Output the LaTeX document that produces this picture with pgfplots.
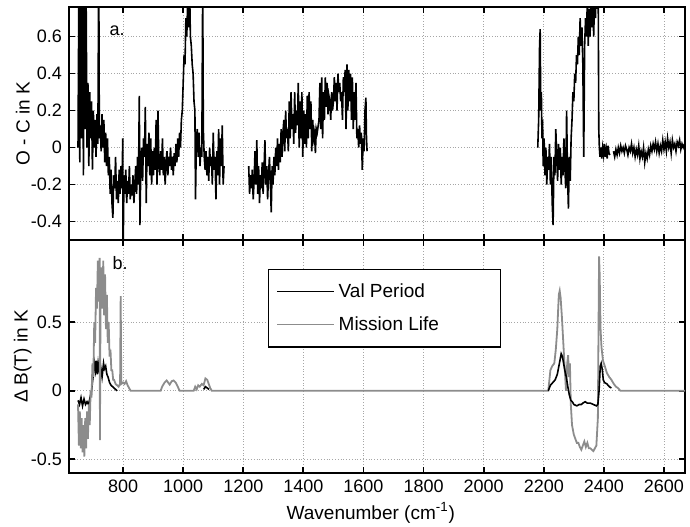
\documentclass[border=0pt]{standalone}
\usepackage{pgfplots}
\pgfplotsset{compat=1.18}
\usepackage{fontspec}
\setmainfont{Liberation Sans}
\definecolor{mlgray}{RGB}{140,140,140}
\begin{document}
\begin{tikzpicture}
\pgfplotsset{
  every axis/.append style={
    scale only axis, width=308pt, height=116.5pt,
    xmin=620, xmax=2670,
    xtick={800,1000,...,2600},
    grid=major, grid style={densely dotted, gray!70, line width=0.4pt},
    tick align=inside, major tick length=3pt,
    tick style={black, line width=0.9pt},
    axis line style={line width=0.9pt},
    /pgf/number format/assume math mode=true,
    /pgf/number format/1000 sep={},
    ticklabel style={font=\fontsize{9}{10}\selectfont},
    label style={font=\fontsize{9.5}{11}\selectfont},
    clip=true,
  }
}
\begin{axis}[name=top,
  ymin=-0.5, ymax=0.76,
  ytick={-0.4,-0.2,0,0.2,0.4,0.6},
  yticklabels={-0.4,-0.2,0,0.2,0.4,0.6},
  xticklabels={},
  ylabel={O - C in K},
  ylabel style={at={(axis description cs:-0.075,0.5)}, anchor=center},
]
\addplot[black, line width=0.8pt] coordinates {
(650,0.0)(653,0.9)(656,-0.08)(659,1.0)(662,0.05)(665,0.9)(668,-0.15)(671,1.0)(674,0.1)(677,0.8)
(680,0.0)(683,0.35)(686,-0.1)(689,0.3)(692,0.05)(695,0.25)(698,-0.12)(701,0.2)(704,0.0)(707,0.15)
(710,-0.05)(713,0.18)(716,0.02)(719,1.0)(721,0.05)(724,0.12)(727,-0.02)(730,0.18)(733,0.0)(736,0.15)
(739,-0.08)(742,0.08)(745,-0.1)(748,0.05)(751,-0.15)(754,-0.05)(757,-0.25)(760,-0.12)(763,-0.3)(766,-0.38)
(769,-0.15)(772,-0.22)(775,-0.05)(778,-0.28)(781,-0.18)(784,-0.3)(787,-0.12)(790,-0.25)(793,-0.1)(796,-0.22)
(799,0.05)(800,-0.6)(803,-0.15)(806,-0.25)(809,-0.12)(812,-0.3)(815,-0.18)(818,-0.25)(821,-0.1)(824,-0.28)
(827,-0.2)(830,-0.26)(833,-0.15)(836,-0.3)(839,-0.2)(842,-0.1)(845,-0.25)(848,-0.05)(851,-0.2)(854,0.28)
(856,-0.42)(859,-0.1)(862,0.0)(865,-0.18)(868,0.05)(871,-0.05)(874,0.22)(877,-0.3)(880,0.02)(883,-0.1)
(886,0.08)(889,-0.15)(892,0.05)(895,-0.2)(898,-0.02)(901,-0.15)(904,0.0)(907,-0.12)(910,0.15)(913,-0.2)
(916,0.2)(919,-0.08)(922,-0.15)(925,-0.02)(928,-0.12)(931,0.05)(934,-0.15)(937,-0.05)(940,-0.2)(943,-0.08)
(946,-0.02)(949,-0.15)(952,-0.05)(955,-0.1)(958,0.0)(961,-0.12)(964,-0.05)(967,-0.15)(970,-0.03)(973,-0.1)
(976,0.02)(979,-0.08)(982,0.05)(985,-0.05)(988,0.08)(991,0.0)(994,0.15)(997,0.2)(1000,0.35)(1003,0.5)
(1006,0.45)(1009,0.7)(1012,0.6)(1015,0.8)(1018,0.65)(1021,0.9)(1024,0.6)(1027,0.55)(1030,0.45)(1033,0.4)
(1036,0.25)(1039,0.2)(1041,-0.28)(1044,0.05)(1047,0.1)(1050,-0.05)(1053,0.08)(1056,-0.1)(1059,0.0)(1062,-0.05)
(1065,0.9)(1067,0.1)(1070,-0.05)(1073,-0.12)(1076,-0.02)(1079,-0.15)(1082,-0.05)(1085,-0.18)(1088,0.0)(1091,-0.1)
(1094,-0.05)(1097,-0.2)(1100,0.08)(1103,-0.12)(1106,-0.05)(1109,-0.28)(1112,-0.02)(1115,-0.15)(1118,0.1)(1121,-0.2)
(1124,0.05)(1127,-0.1)(1130,0.12)(1133,-0.2)(1136,-0.1)
};
\addplot[black, line width=0.8pt] coordinates {
(1218,-0.1)(1221,-0.25)(1224,-0.15)(1227,-0.22)(1230,-0.12)(1233,-0.28)(1236,-0.18)(1239,-0.02)(1242,-0.2)(1245,0.04)
(1248,-0.25)(1251,-0.1)(1254,-0.3)(1257,-0.15)(1260,-0.22)(1263,-0.08)(1266,-0.25)(1269,-0.12)(1272,0.04)(1275,-0.2)
(1278,-0.1)(1281,-0.28)(1284,-0.15)(1287,-0.05)(1290,-0.18)(1293,-0.35)(1296,-0.1)(1299,-0.2)(1302,-0.05)(1305,-0.15)
(1308,0.0)(1311,-0.1)(1314,0.05)(1317,-0.12)(1320,0.02)(1323,-0.08)(1326,0.1)(1329,-0.05)(1332,0.08)(1335,0.15)
(1338,-0.02)(1341,0.2)(1344,0.05)(1347,0.1)(1350,-0.02)(1353,0.25)(1356,0.05)(1359,0.3)(1362,0.1)(1365,0.18)
(1368,0.02)(1371,0.3)(1374,0.08)(1377,0.2)(1380,0.12)(1383,0.35)(1386,0.0)(1389,0.25)(1392,0.05)(1395,0.3)
(1398,-0.05)(1401,0.2)(1404,0.02)(1407,0.18)(1410,0.0)(1413,0.28)(1416,0.05)(1419,0.3)(1422,0.1)(1425,0.25)
(1428,-0.02)(1431,0.15)(1434,0.05)(1437,0.08)(1440,-0.03)(1443,0.1)(1446,0.08)(1452,0.15)(1455,0.35)(1458,0.1)
(1461,0.38)(1464,0.05)(1467,0.3)(1470,0.15)(1473,0.38)(1476,0.22)(1479,0.35)(1482,0.18)(1485,0.28)(1488,0.25)
(1491,0.15)(1494,0.3)(1497,0.2)(1500,0.25)(1503,0.38)(1506,0.25)(1509,0.35)(1512,0.2)(1515,0.4)(1518,0.3)
(1521,0.35)(1524,0.25)(1527,0.3)(1530,0.15)(1533,0.38)(1536,0.3)(1539,0.42)(1542,0.1)(1545,0.45)(1548,0.2)
(1551,0.42)(1554,0.25)(1557,0.4)(1560,0.15)(1563,0.38)(1566,0.1)(1569,0.3)(1572,0.15)(1575,0.35)(1578,0.05)
(1581,0.1)(1584,0.0)(1587,0.12)(1590,0.02)(1593,0.08)(1596,-0.12)(1599,0.05)(1602,-0.02)(1605,0.2)(1608,0.27)
(1610,0.05)(1612,-0.02)
};
\addplot[black, line width=0.8pt] coordinates {
(2180,0.0)(2183,0.15)(2186,0.55)(2188,0.64)(2190,0.2)(2192,0.3)(2194,0.05)(2196,0.15)(2198,-0.1)(2201,0.05)
(2204,-0.15)(2207,0.0)(2210,-0.2)(2213,-0.05)(2216,-0.12)(2219,0.02)(2222,-0.2)(2225,-0.05)(2228,-0.3)(2231,-0.42)
(2234,-0.05)(2237,-0.15)(2240,0.1)(2243,-0.05)(2246,-0.18)(2249,0.02)(2252,-0.12)(2255,0.0)(2258,-0.2)(2261,-0.05)
(2264,-0.15)(2267,0.05)(2270,-0.1)(2273,-0.22)(2276,0.2)(2279,-0.15)(2282,-0.33)(2285,-0.05)(2288,-0.18)(2291,0.05)
(2294,0.15)(2297,0.3)(2300,0.25)(2303,0.4)(2306,0.35)(2309,0.5)(2312,0.45)(2315,0.6)(2318,0.5)(2321,0.7)
(2324,0.55)(2327,0.65)(2330,0.45)(2333,-0.05)(2336,0.55)(2339,0.7)(2342,0.6)(2345,0.8)(2348,0.55)(2351,0.75)
(2354,0.6)(2357,0.8)(2360,0.65)(2363,0.85)(2366,0.6)(2369,0.8)(2372,0.7)(2375,0.9)(2378,0.75)(2381,0.9)
(2383,0.1)(2385,0.0)(2387,-0.05)(2390,0.0)(2393,-0.06)(2396,0.0)(2399,-0.04)(2402,0.02)(2405,-0.05)(2408,-0.01)
(2411,-0.06)(2414,0.01)(2417,-0.03)(2420,-0.04)
};
\addplot[black, line width=0.8pt] coordinates {
(2432,-0.02)(2436,-0.05)(2440,-0.01)(2444,-0.04)(2448,0.0)(2452,-0.03)(2456,0.01)(2460,-0.02)(2464,0.0)(2468,-0.03)
(2472,0.01)(2476,-0.01)(2480,-0.04)(2484,0.0)(2488,-0.02)(2492,0.02)(2496,-0.03)(2500,0.0)(2504,-0.05)(2508,-0.01)
(2512,-0.04)(2516,0.01)(2520,-0.06)(2524,-0.02)(2528,-0.05)(2532,0.0)(2536,-0.08)(2540,-0.03)(2544,-0.06)(2548,-0.01)
(2552,-0.04)(2556,0.01)(2560,-0.02)(2564,0.02)(2568,-0.01)(2572,0.03)(2576,-0.02)(2580,0.02)(2584,-0.03)(2588,0.01)
(2592,-0.02)(2596,0.04)(2600,-0.01)(2604,0.03)(2608,-0.02)(2612,0.05)(2616,0.0)(2620,0.03)(2624,-0.03)(2628,0.04)
(2632,0.0)(2636,0.02)(2640,-0.02)(2644,0.03)(2648,0.01)(2652,0.04)(2656,-0.01)(2660,0.02)(2664,0.0)(2668,0.02)
};
\node[font=\fontsize{9}{10}\selectfont, anchor=center] at (axis cs:780,0.63) {a.};
\end{axis}
\begin{axis}[name=bot, at={(top.south west)}, anchor=north west,
  ymin=-0.6, ymax=1.1,
  ytick={-0.5,0,0.5},
  yticklabels={-0.5,0,0.5},
  xlabel={Wavenumber (cm\textsuperscript{-1})},
  xlabel style={at={(axis description cs:0.49,-0.172)}, anchor=center},
  ylabel={Δ B(T) in K},
  ylabel style={at={(axis description cs:-0.075,0.5)}, anchor=center},
  legend style={at={(0.323,0.876)}, anchor=north west, draw=black, line width=0.6pt,
    font=\fontsize{9.5}{11}\selectfont, row sep=4pt, inner xsep=4pt, inner ysep=5pt},
  legend cell align=left,
  legend image code/.code={\draw[#1, line width=0.6pt] (0cm,0cm) -- (1cm,0cm);},
]
\addplot[black, line width=0.8pt] coordinates {
(650,-0.07)(655,-0.1)(660,-0.05)(665,-0.11)(670,-0.06)(675,-0.1)(680,-0.08)(685,-0.1)(690,-0.05)(695,0.0)
(700,0.1)(705,0.2)(708,0.15)(711,0.22)(714,0.12)(717,0.2)(720,0.15)(725,0.18)(730,0.1)(735,0.2)
(738,0.16)(742,0.18)(746,0.12)(750,0.1)(755,0.06)(760,0.04)(765,0.03)(770,0.02)(775,0.01)(780,0.0)
};
\addlegendentry{\makebox[75pt][l]{Val Period}}
\addplot[mlgray, line width=0.9pt] coordinates {
(650,-0.1)(653,-0.4)(656,-0.15)(659,-0.42)(662,-0.2)(665,-0.45)(668,-0.25)(671,-0.48)(674,-0.2)(677,-0.42)
(680,-0.15)(683,-0.35)(686,-0.1)(689,-0.25)(692,0.0)(695,-0.05)(698,0.2)(701,0.1)(704,0.5)(707,0.35)
(710,0.75)(713,0.6)(716,0.95)(719,0.65)(722,0.97)(723,-0.36)(725,0.7)(728,0.9)(731,0.6)(734,0.95)
(737,0.55)(740,0.85)(743,0.45)(746,0.7)(749,0.35)(752,0.5)(755,0.25)(758,0.3)(761,0.15)(764,0.15)
(767,0.08)(770,0.08)(775,0.05)(780,0.04)(785,0.03)(790,0.05)(792,0.69)(794,0.05)(800,0.06)(805,0.05)
(810,0.07)(815,0.04)(820,0.02)(825,0)(925,0)(930,0.03)(938,0.06)(945,0.075)(950,0.06)(955,0.045)
(962,0.07)(968,0.075)(975,0.06)(982,0.03)(988,0)(1035,0)(1040,0.03)(1045,0.01)(1050,0.04)(1055,0.03)
(1062,0.05)(1068,0.04)(1074,0.09)(1080,0.08)(1085,0.05)(1090,0.02)(1095,0)(2215,0)(2222,0.15)(2228,0.18)
(2235,0.2)(2240,0.3)(2245,0.45)(2250,0.7)(2253,0.73)(2256,0.68)(2260,0.55)(2265,0.35)(2270,0.15)(2274,0.0)
(2278,0.2)(2281,0.26)(2284,0.1)(2287,0.2)(2290,-0.1)(2294,-0.25)(2300,-0.32)(2305,-0.35)(2310,-0.38)(2315,-0.38)
(2320,-0.41)(2325,-0.43)(2330,-0.4)(2335,-0.37)(2340,-0.41)(2345,-0.38)(2350,-0.42)(2355,-0.42)(2360,-0.43)(2365,-0.44)
(2370,-0.42)(2375,-0.4)(2380,-0.2)(2382,0.4)(2384,0.98)(2386,0.85)(2389,0.45)(2392,0.32)(2397,0.22)(2403,0.18)
(2410,0.13)(2418,0.1)(2425,0.08)(2433,0.05)(2440,0.03)(2447,0.02)(2455,0)(2670,0)
};
\addlegendentry{\makebox[75pt][l]{Mission Life}}
\addplot[black, line width=0.8pt, forget plot] coordinates {
(1068,0.01)(1074,0.03)(1080,0.02)(1086,0.01)
};
\addplot[black, line width=0.8pt, forget plot] coordinates {
(2215,0.0)(2222,0.04)(2230,0.06)(2238,0.08)(2245,0.12)(2252,0.2)(2258,0.27)(2262,0.25)(2266,0.2)(2270,0.15)
(2275,0.1)(2280,0.03)(2285,-0.03)(2290,-0.07)(2295,-0.08)(2300,-0.1)(2310,-0.11)(2318,-0.1)(2325,-0.1)(2330,-0.09)
(2338,-0.08)(2345,-0.09)(2355,-0.09)(2365,-0.1)(2375,-0.11)(2380,-0.1)(2384,0.0)(2388,0.18)(2391,0.2)(2395,0.15)
(2398,0.08)(2402,0.06)(2410,0.05)(2418,0.03)(2425,0.02)
};
\node[font=\fontsize{9}{10}\selectfont, anchor=center] at (axis cs:790,0.93) {b.};
\end{axis}
\pgfresetboundingbox
\path[use as bounding box] ([shift={(-34.5pt,3.5pt)}]top.north west) rectangle ([shift={(2.5pt,-26.5pt)}]bot.south east);
\end{tikzpicture}
\end{document}
